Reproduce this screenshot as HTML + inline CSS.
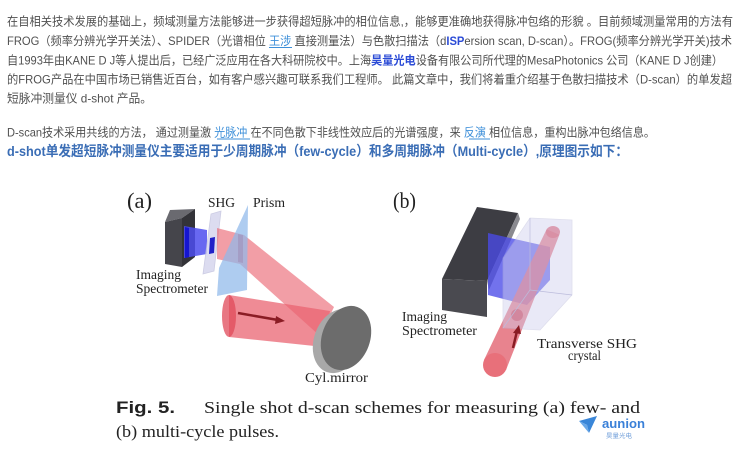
<!DOCTYPE html>
<html><head><meta charset="utf-8"><style>
html,body{margin:0;padding:0;background:#fff;}
svg{display:block;}
.b{font-family:"Liberation Sans","Noto Sans CJK SC",sans-serif;font-size:12px;fill:#505050;}
.s{font-family:"Liberation Serif",serif;fill:#222;}
</style></head><body>
<svg width="750" height="453" viewBox="0 0 750 453" xmlns="http://www.w3.org/2000/svg">
<rect width="750" height="453" fill="#fff"/>
<!-- paragraph -->
<text class="b" x="7" y="25.5" textLength="726" lengthAdjust="spacingAndGlyphs">在自相关技术发展的基础上，频域测量方法能够进一步获得超短脉冲的相位信息,，能够更准确地获得脉冲包络的形貌 。目前频域测量常用的方法有</text>
<text class="b" x="7" y="45" textLength="725" lengthAdjust="spacingAndGlyphs">FROG（频率分辨光学开关法）、SPIDER（光谱相位 <tspan fill="#3d8fd9">王涉</tspan> 直接测量法）与色散扫描法（d<tspan fill="#2b4bd6" font-weight="bold">ISP</tspan>ersion scan, D-scan）。FROG(频率分辨光学开关)技术</text>
<line x1="269" y1="47.5" x2="292" y2="47.5" stroke="#3d8fd9" stroke-width="1"/>
<text class="b" x="7" y="64.5" textLength="716" lengthAdjust="spacingAndGlyphs">自1993年由KANE D J等人提出后，已经广泛应用在各大科研院校中。上海<tspan fill="#2b4bd6" font-weight="bold">昊量光电</tspan>设备有限公司所代理的MesaPhotonics 公司（KANE D J创建）</text>
<text class="b" x="7" y="83.5" textLength="725" lengthAdjust="spacingAndGlyphs">的FROG产品在中国市场已销售近百台，如有客户感兴趣可联系我们工程师。 此篇文章中，我们将着重介绍基于色散扫描技术（D-scan）的单发超</text>
<text class="b" x="7" y="102.5" textLength="145" lengthAdjust="spacingAndGlyphs">短脉冲测量仪 d-shot 产品。</text>
<text class="b" x="7" y="136.5" textLength="648" lengthAdjust="spacingAndGlyphs">D-scan技术采用共线的方法， 通过测量激 <tspan fill="#3d8fd9">光脉冲</tspan> 在不同色散下非线性效应后的光谱强度，来 <tspan fill="#3d8fd9">反演</tspan> 相位信息，重构出脉冲包络信息。</text>
<line x1="217" y1="139" x2="250" y2="139" stroke="#3d8fd9" stroke-width="1"/>
<line x1="469" y1="139" x2="490" y2="139" stroke="#3d8fd9" stroke-width="1"/>
<text x="7" y="156" textLength="621" lengthAdjust="spacingAndGlyphs" style="font-family:'Liberation Sans','Noto Sans CJK SC',sans-serif;font-size:14px;font-weight:bold;fill:#3a6db5">d-shot单发超短脉冲测量仪主要适用于少周期脉冲（few-cycle）和多周期脉冲（Multi-cycle）,原理图示如下：</text>

<!-- Figure (a) -->
<text class="s" x="127" y="208" font-size="22" textLength="25" lengthAdjust="spacingAndGlyphs">(a)</text>
<text class="s" x="208" y="207" font-size="14" textLength="27" lengthAdjust="spacingAndGlyphs">SHG</text>
<text class="s" x="253" y="207" font-size="14" textLength="32" lengthAdjust="spacingAndGlyphs">Prism</text>
<!-- dark box -->
<polygon points="165,222 170,210 195,209 182,218" fill="#6a6a70"/>
<polygon points="165,222 182,218 182,267 165,264" fill="#45454b"/>
<polygon points="182,218 195,209 195,257 182,267" fill="#333338"/>
<!-- blue beam -->
<polygon points="184,226 207,230 207,254 184,258" fill="#4d4dee" opacity="0.85"/>
<polygon points="185,227 189,228 189,257 185,258" fill="#1515d0"/>
<!-- SHG plate -->
<polygon points="211,214 221,211 214,271 203,274" fill="#d6d6ee" opacity="0.85" stroke="#c4c4df" stroke-width="0.8"/>
<polygon points="210,238 215,237 214,253 209,254" fill="#2020c8"/>
<!-- lower incoming beam -->
<polygon points="229,295 330,311 324,347 229,337" fill="#e85a68" opacity="0.7"/>
<ellipse cx="229" cy="316" rx="7" ry="21" fill="#e04a5a" opacity="0.75"/>
<line x1="238" y1="313" x2="278" y2="320" stroke="#8a1c24" stroke-width="2.5"/>
<polygon points="285,321 276,316 275,324" fill="#8a1c24"/>
<!-- upper beam -->
<polygon points="217,228 244,235 334,307 320,336 240,264 217,259" fill="#ea6270" opacity="0.62"/>
<polygon points="238,234 243,235 243,263 238,262" fill="#c8283a" opacity="0.6"/>
<!-- prism -->
<polygon points="248,205 247,290 217,296 219,268" fill="#8fb8ea" opacity="0.72"/>
<!-- mirror -->
<ellipse cx="338" cy="341" rx="24" ry="33" transform="rotate(20 338 341)" fill="#a8a8a8"/>
<ellipse cx="346" cy="338" rx="24" ry="33" transform="rotate(20 346 338)" fill="#6c6c6c"/>
<text class="s" x="136" y="279" font-size="14" textLength="45" lengthAdjust="spacingAndGlyphs">Imaging</text>
<text class="s" x="136" y="293" font-size="14" textLength="72" lengthAdjust="spacingAndGlyphs">Spectrometer</text>
<text class="s" x="305" y="382" font-size="14" textLength="63" lengthAdjust="spacingAndGlyphs">Cyl.mirror</text>

<!-- Figure (b) -->
<text class="s" x="393" y="208" font-size="22" textLength="23" lengthAdjust="spacingAndGlyphs">(b)</text>
<polygon points="477,207 518,213 487,281 442,279" fill="#3d3d43"/>
<polygon points="518,213 520,219 489,290 487,281" fill="#8a8a90"/>
<polygon points="442,279 487,281 487,317 442,310" fill="#4a4a50"/>
<!-- blue region -->
<polygon points="488,233 550,247 550,280 527,305 488,295" fill="#4a4ae8" opacity="0.78"/>
<!-- red beam -->
<polygon points="484,360 546.6,229.2 559.4,234.8 506,370" fill="#e2606e" opacity="0.78"/>
<ellipse cx="553" cy="232" rx="7" ry="6" fill="#e05262" opacity="0.8"/>
<circle cx="517" cy="315" r="6" fill="#d04050" opacity="0.8"/>
<!-- crystal box -->
<polygon points="503,258 530,218 572,220 572,295 540,330 503,328" fill="#cfcfee" opacity="0.45" stroke="#b8b8d8" stroke-width="0.8"/>
<polyline points="530,218 530,290 503,328" fill="none" stroke="#bcbcdc" stroke-width="0.7"/>
<line x1="530" y1="290" x2="572" y2="295" stroke="#bcbcdc" stroke-width="0.7"/>
<!-- bottom cap & arrow -->
<ellipse cx="495" cy="365" rx="12" ry="12" fill="#e8707a"/>
<line x1="513" y1="348" x2="517" y2="331" stroke="#8a1c24" stroke-width="2.5"/>
<polygon points="519,325 513,333 521,334" fill="#8a1c24"/>
<text class="s" x="402" y="321" font-size="14" textLength="45" lengthAdjust="spacingAndGlyphs">Imaging</text>
<text class="s" x="402" y="335" font-size="14" textLength="75" lengthAdjust="spacingAndGlyphs">Spectrometer</text>
<text class="s" x="537" y="348" font-size="14" textLength="100" lengthAdjust="spacingAndGlyphs">Transverse SHG</text>
<text class="s" x="568" y="360" font-size="14" textLength="33" lengthAdjust="spacingAndGlyphs">crystal</text>

<!-- caption -->
<text x="116" y="413" textLength="59" lengthAdjust="spacingAndGlyphs" style="font-family:'Liberation Sans',sans-serif;font-size:17px;font-weight:bold;fill:#222">Fig. 5.</text>
<text class="s" x="204" y="413" font-size="17" fill="#333" textLength="436" lengthAdjust="spacingAndGlyphs">Single shot d-scan schemes for measuring (a) few- and</text>
<text class="s" x="116" y="437" font-size="17" fill="#333" textLength="163" lengthAdjust="spacingAndGlyphs">(b) multi-cycle pulses.</text>
<!-- logo -->
<polygon points="579,421 597,416 589,433 587,425" fill="#3a86d8"/>
<polygon points="579,421 587,425 589,433" fill="#6aa8e8"/>
<text x="602" y="428" textLength="43" lengthAdjust="spacingAndGlyphs" style="font-family:'Liberation Sans',sans-serif;font-size:13px;font-weight:bold;fill:#3a80d8">aunion</text>
<text x="606" y="438" textLength="26" lengthAdjust="spacingAndGlyphs" style="font-family:'Noto Sans CJK SC',sans-serif;font-size:6px;fill:#6a9ad8">昊量光电</text>
</svg>
</body></html>
